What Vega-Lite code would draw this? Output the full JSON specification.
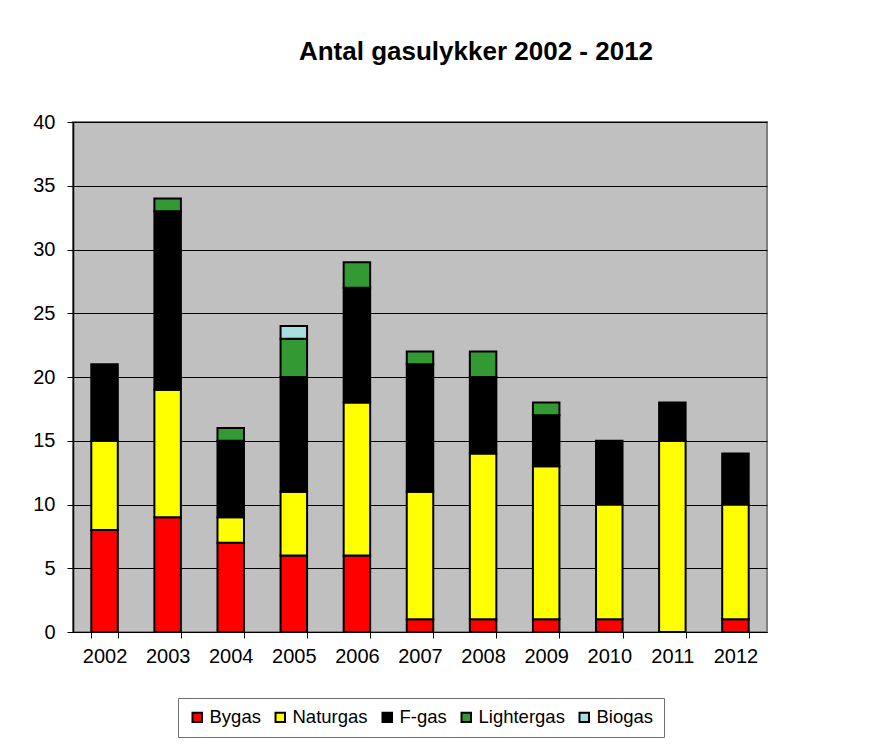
{
  "$schema": "https://vega.github.io/schema/vega-lite/v6.json",
  "autosize": {"type": "none"},
  "padding": {"left": 73, "top": 122, "right": 114, "bottom": 112},
  "width": 694,
  "height": 510,
  "background": "white",
  "title": {
    "text": "Antal gasulykker 2002 - 2012",
    "font": "Liberation Sans",
    "fontSize": 26,
    "fontWeight": "bold",
    "color": "black",
    "anchor": "middle",
    "dx": 56,
    "offset": 47
  },
  "data": {
    "values": [
      {"year": "2002", "type": "Bygas", "n": 8, "o": 1},
      {"year": "2002", "type": "Naturgas", "n": 7, "o": 2},
      {"year": "2002", "type": "F-gas", "n": 6, "o": 3},
      {"year": "2003", "type": "Bygas", "n": 9, "o": 1},
      {"year": "2003", "type": "Naturgas", "n": 10, "o": 2},
      {"year": "2003", "type": "F-gas", "n": 14, "o": 3},
      {"year": "2003", "type": "Lightergas", "n": 1, "o": 4},
      {"year": "2004", "type": "Bygas", "n": 7, "o": 1},
      {"year": "2004", "type": "Naturgas", "n": 2, "o": 2},
      {"year": "2004", "type": "F-gas", "n": 6, "o": 3},
      {"year": "2004", "type": "Lightergas", "n": 1, "o": 4},
      {"year": "2005", "type": "Bygas", "n": 6, "o": 1},
      {"year": "2005", "type": "Naturgas", "n": 5, "o": 2},
      {"year": "2005", "type": "F-gas", "n": 9, "o": 3},
      {"year": "2005", "type": "Lightergas", "n": 3, "o": 4},
      {"year": "2005", "type": "Biogas", "n": 1, "o": 5},
      {"year": "2006", "type": "Bygas", "n": 6, "o": 1},
      {"year": "2006", "type": "Naturgas", "n": 12, "o": 2},
      {"year": "2006", "type": "F-gas", "n": 9, "o": 3},
      {"year": "2006", "type": "Lightergas", "n": 2, "o": 4},
      {"year": "2007", "type": "Bygas", "n": 1, "o": 1},
      {"year": "2007", "type": "Naturgas", "n": 10, "o": 2},
      {"year": "2007", "type": "F-gas", "n": 10, "o": 3},
      {"year": "2007", "type": "Lightergas", "n": 1, "o": 4},
      {"year": "2008", "type": "Bygas", "n": 1, "o": 1},
      {"year": "2008", "type": "Naturgas", "n": 13, "o": 2},
      {"year": "2008", "type": "F-gas", "n": 6, "o": 3},
      {"year": "2008", "type": "Lightergas", "n": 2, "o": 4},
      {"year": "2009", "type": "Bygas", "n": 1, "o": 1},
      {"year": "2009", "type": "Naturgas", "n": 12, "o": 2},
      {"year": "2009", "type": "F-gas", "n": 4, "o": 3},
      {"year": "2009", "type": "Lightergas", "n": 1, "o": 4},
      {"year": "2010", "type": "Bygas", "n": 1, "o": 1},
      {"year": "2010", "type": "Naturgas", "n": 9, "o": 2},
      {"year": "2010", "type": "F-gas", "n": 5, "o": 3},
      {"year": "2011", "type": "Naturgas", "n": 15, "o": 2},
      {"year": "2011", "type": "F-gas", "n": 3, "o": 3},
      {"year": "2012", "type": "Bygas", "n": 1, "o": 1},
      {"year": "2012", "type": "Naturgas", "n": 9, "o": 2},
      {"year": "2012", "type": "F-gas", "n": 4, "o": 3}
    ]
  },
  "mark": {"type": "bar", "stroke": "black", "strokeWidth": 2},
  "encoding": {
    "x": {
      "field": "year",
      "type": "ordinal",
      "scale": {"paddingInner": 0.58, "paddingOuter": 0.29},
      "axis": {
        "title": null,
        "labelAngle": 0,
        "labelFont": "Liberation Sans",
        "labelFontSize": 20,
        "labelColor": "black",
        "labelPadding": 8,
        "tickBand": "extent",
        "tickColor": "black",
        "tickSize": 6,
        "domainColor": "black",
        "domainWidth": 1
      }
    },
    "y": {
      "field": "n",
      "type": "quantitative",
      "aggregate": "sum",
      "stack": "zero",
      "scale": {"domain": [0, 40], "nice": false},
      "axis": {
        "title": null,
        "values": [0, 5, 10, 15, 20, 25, 30, 35, 40],
        "labelFont": "Liberation Sans",
        "labelFontSize": 20,
        "labelColor": "black",
        "labelPadding": 12,
        "tickColor": "black",
        "tickSize": 6,
        "domainColor": "black",
        "domainWidth": 1.5,
        "grid": true,
        "gridColor": "black",
        "gridWidth": 1.2,
        "gridOpacity": 1
      }
    },
    "order": {"field": "o", "type": "quantitative", "aggregate": "min"},
    "color": {
      "field": "type",
      "type": "nominal",
      "scale": {
        "domain": ["Bygas", "Naturgas", "F-gas", "Lightergas", "Biogas"],
        "range": ["#FF0000", "#FFFF00", "#000000", "#339933", "#A8DEDE"]
      },
      "legend": {
        "title": null,
        "orient": "none",
        "legendX": 105,
        "legendY": 576,
        "direction": "horizontal",
        "symbolType": "square",
        "symbolSize": 90,
        "symbolStrokeColor": "black",
        "symbolStrokeWidth": 2,
        "symbolOpacity": 1,
        "labelFont": "Liberation Sans",
        "labelFontSize": 18.5,
        "labelColor": "black",
        "labelOffset": 3,
        "columnPadding": 10,
        "padding": 10,
        "strokeColor": "#707070"
      }
    }
  },
  "config": {
    "view": {"fill": "#C0C0C0", "stroke": "#808080", "strokeWidth": 2},
    "axis": {"labelFontWeight": "normal"}
  }
}
